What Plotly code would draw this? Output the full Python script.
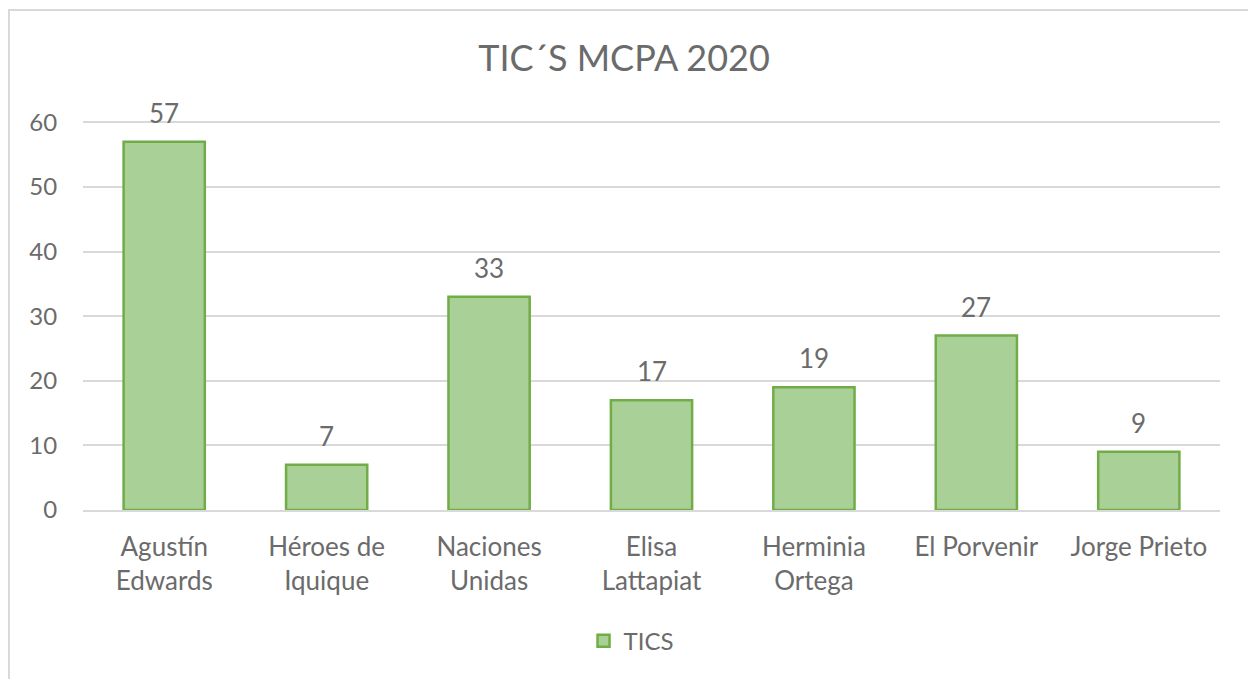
import plotly.graph_objects as go

# Data
categories = ["Agustín<br>Edwards", "Héroes de<br>Iquique", "Naciones<br>Unidas",
              "Elisa<br>Lattapiat", "Herminia<br>Ortega", "El Porvenir", "Jorge Prieto"]
tics = [57, 7, 33, 17, 19, 27, 9]
y_ticks = [0, 10, 20, 30, 40, 50, 60]

GREY = "#6b6b6b"
GRID = "#d9d9d9"
FONT = "Lato, Carlito, Calibri, sans-serif"

fig = go.Figure()
fig.add_trace(go.Bar(
    x=categories,
    y=tics,
    name="TICS",
    marker=dict(color="#a9d096", line=dict(color="#70ad47", width=2.5)),
    width=0.5,
))

# Value labels sitting a little above each bar
for cat, v in zip(categories, tics):
    fig.add_annotation(x=cat, y=v, text=str(v), showarrow=False,
                       yanchor="bottom", yshift=11,
                       font=dict(size=26, color=GREY, family=FONT))

fig.update_layout(
    width=1248, height=679,
    paper_bgcolor="white", plot_bgcolor="white",
    margin=dict(l=83, r=28, t=116, b=169),
    title=dict(text="TIC´S MCPA 2020", x=0.5, xanchor="center", y=1 - 58 / 679, yanchor="middle",
               font=dict(size=36, color=GREY, family=FONT)),
    font=dict(family=FONT, color=GREY, size=26),
    showlegend=True,
    legend=dict(orientation="h", x=0.482, xanchor="center", y=-0.333, yanchor="middle",
                font=dict(size=24, color=GREY, family=FONT)),
    xaxis=dict(showgrid=False, showline=True, linecolor=GRID, linewidth=2,
               tickfont=dict(size=26, color=GREY), ticks="outside", ticklen=13, tickcolor="white"),
    yaxis=dict(range=[0, 61], tickvals=y_ticks, showgrid=True, gridcolor=GRID, gridwidth=2,
               zeroline=False, showline=False, tickfont=dict(size=24, color=GREY),
               ticks="outside", ticklen=20, tickcolor="white"),
    shapes=[dict(type="rect", xref="paper", yref="paper",
                 x0=-74 / 1137, x1=1.1, y0=-0.5, y1=1 + 106 / 394,
                 line=dict(color=GRID, width=2), fillcolor="rgba(0,0,0,0)", layer="below")],
)

fig.write_html("out.html")
